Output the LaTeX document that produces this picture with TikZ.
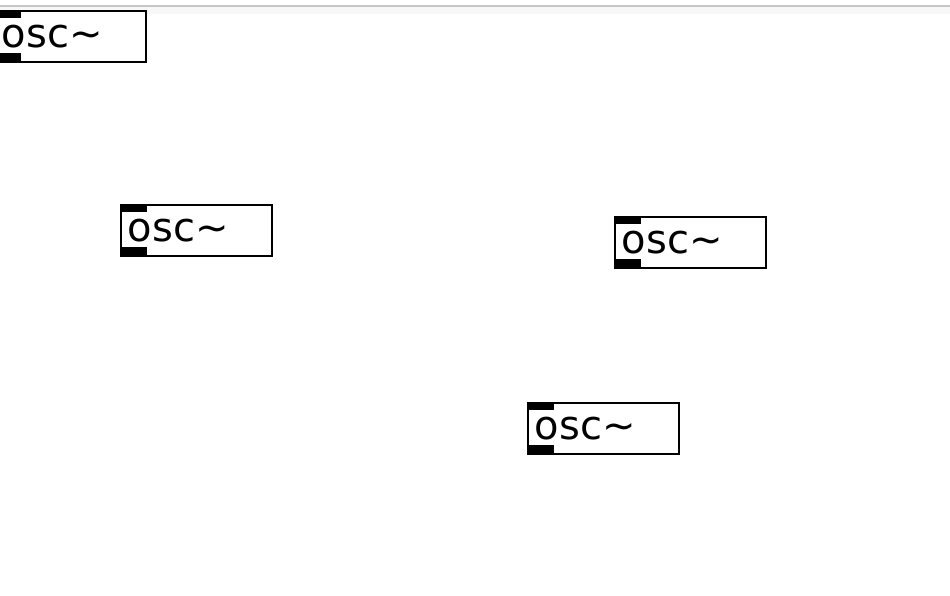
\documentclass[tikz,border=0pt]{standalone}
\usepackage{fontspec}
\setmainfont{DejaVu Sans}
\begin{document}
\begin{tikzpicture}[x=1pt,y=-1pt,
  pdobj/.style={draw=black, line width=1.6pt, fill=white, anchor=north west,
    minimum width=151pt, minimum height=51pt, text width=137pt, inner xsep=7pt,
    inner ysep=0pt, align=left, font=\fontsize{40}{44}\selectfont},
  iolet/.style={fill=black}]
\useasboundingbox (0,0) rectangle (950,595);
\clip (0,0) rectangle (950,595);
\fill[white] (0,0) rectangle (950,595);
\fill[gray!6] (0,6) rectangle (950,14);
\draw[gray!45, line width=1.2pt] (0,6) -- (950,6);
\foreach \n/\x/\y in {o1/-6/10, o2/120/204, o3/614/216, o4/527/402}{
  \node[pdobj] (\n) at (\x,\y) {osc\textasciitilde};
  \fill[iolet] (\n.north west) rectangle ++(27,8);
  \fill[iolet] (\n.south west) rectangle ++(27,-10);
}
\end{tikzpicture}
\end{document}
